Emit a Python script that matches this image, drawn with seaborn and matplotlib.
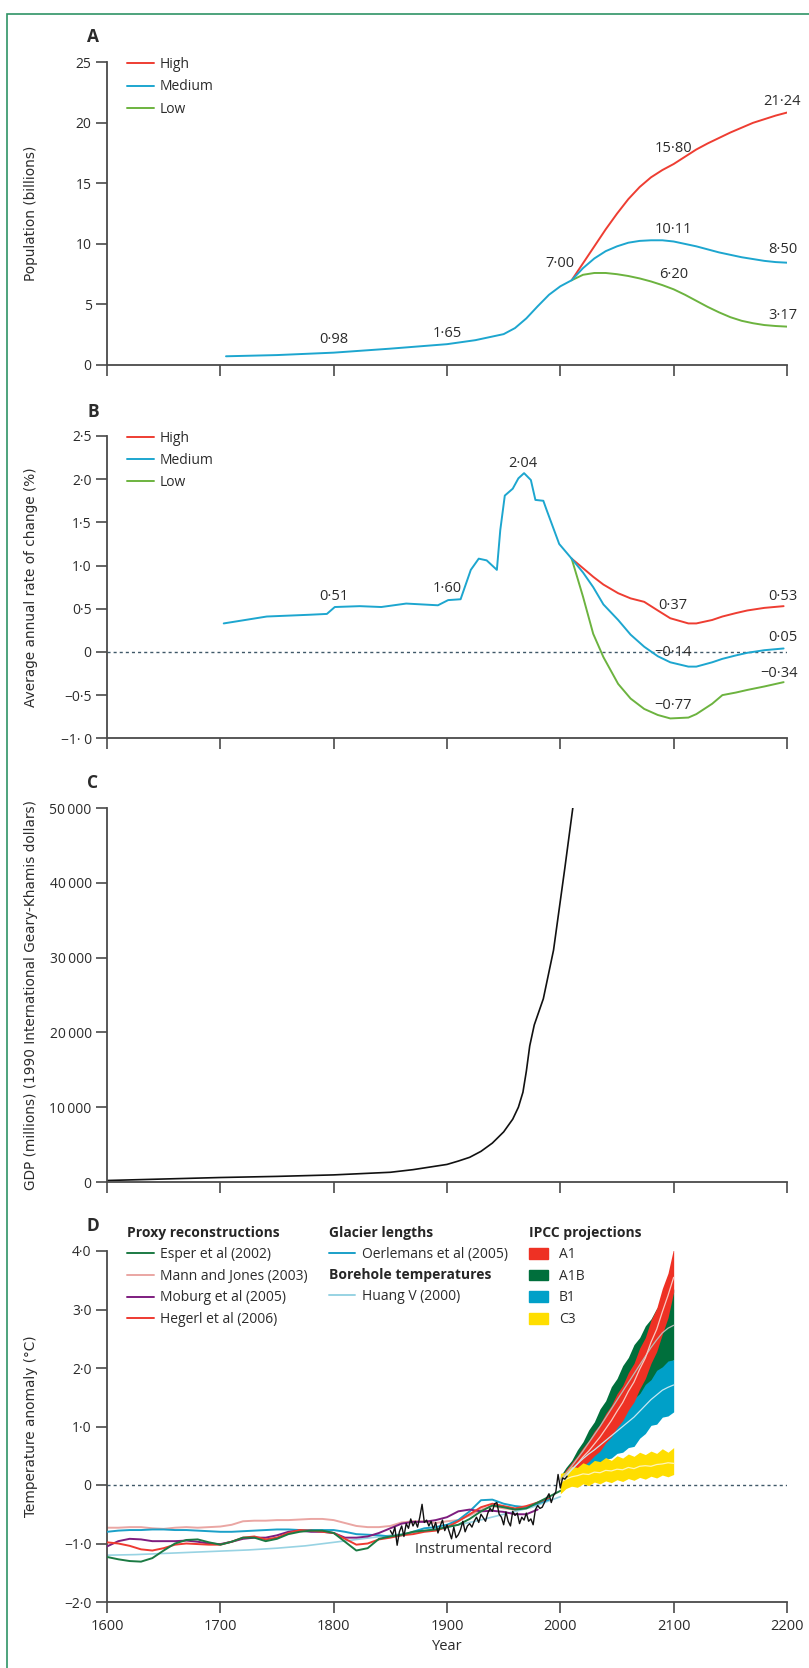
import numpy as np
import pandas as pd
import matplotlib
matplotlib.use("Agg")
import matplotlib.pyplot as plt
import seaborn as sns
from matplotlib.lines import Line2D
from matplotlib.patches import Patch, Rectangle

sns.set_theme(style="ticks")
plt.rcParams["font.family"] = ["Open Sans", "DejaVu Sans"]

# ---------------- DATA ----------------
# Panel A: population (billions)
pop_hist_years = [1705, 1750, 1800, 1850, 1900, 1925, 1950, 1960, 1970, 1980, 1990, 2000, 2010]
pop_hist = [0.72, 0.82, 1.02, 1.35, 1.72, 2.05, 2.55, 3.05, 3.85, 4.85, 5.80, 6.50, 7.00]
proj_years = [2010, 2020, 2030, 2040, 2050, 2060, 2070, 2080, 2090, 2100,
              2110, 2120, 2130, 2140, 2150, 2160, 2170, 2180, 2190, 2200]
pop_high = [7.0, 8.4, 9.8, 11.2, 12.5, 13.7, 14.7, 15.5, 16.1, 16.6,
            17.2, 17.8, 18.3, 18.75, 19.2, 19.6, 20.0, 20.3, 20.6, 20.85]
pop_medium = [7.0, 8.0, 8.8, 9.4, 9.8, 10.1, 10.25, 10.3, 10.3, 10.2,
              10.0, 9.8, 9.55, 9.3, 9.1, 8.9, 8.75, 8.6, 8.5, 8.45]
pop_low = [7.0, 7.45, 7.6, 7.6, 7.5, 7.35, 7.15, 6.9, 6.6, 6.25,
           5.8, 5.3, 4.8, 4.35, 3.95, 3.65, 3.45, 3.3, 3.22, 3.17]
popA_labels = ["0·98", "1·65", "7·00", "15·80", "10·11", "6·20", "21·24", "8·50", "3·17"]
popA_lab_x = [1800, 1900, 2000, 2100, 2100, 2100, 2196, 2196, 2196]
popA_lab_y = [2.1, 2.6, 8.4, 17.9, 11.15, 7.45, 21.75, 9.5, 4.1]

# Panel B: average annual rate of change (%)
rate_hist_years = [1703, 1741, 1778, 1794, 1801, 1823, 1842, 1864, 1892, 1901, 1912,
                   1921, 1928, 1935, 1944, 1947, 1951, 1958, 1963, 1968, 1974,
                   1978, 1985, 1988, 1999, 2010]
rate_hist = [0.33, 0.41, 0.43, 0.44, 0.52, 0.53, 0.52, 0.56, 0.54, 0.60, 0.61,
             0.95, 1.08, 1.06, 0.95, 1.41, 1.81, 1.89, 2.01, 2.07, 1.99,
             1.76, 1.75, 1.64, 1.25, 1.08]
rate_proj_years = [2010, 2020, 2029, 2038, 2051, 2062, 2074, 2086, 2097, 2113, 2120,
                   2134, 2143, 2155, 2165, 2180, 2197]
rate_high = [1.08, 0.97, 0.87, 0.78, 0.68, 0.62, 0.58, 0.48, 0.39, 0.33, 0.33,
             0.37, 0.41, 0.45, 0.48, 0.51, 0.53]
rate_medium = [1.08, 0.92, 0.75, 0.55, 0.37, 0.20, 0.06, -0.05, -0.12, -0.17, -0.17,
               -0.12, -0.08, -0.04, -0.01, 0.02, 0.04]
rate_low = [1.08, 0.64, 0.21, -0.06, -0.37, -0.54, -0.66, -0.73, -0.77, -0.76, -0.72,
            -0.60, -0.50, -0.47, -0.44, -0.40, -0.35]
rateB_labels = ["0·51", "1·60", "2·04", "0·37", "0·53", "0·05", "−0·14", "−0·34", "−0·77"]
rateB_lab_x = [1800, 1900, 1967, 2099, 2196, 2196, 2099, 2193, 2099]
rateB_lab_y = [0.64, 0.73, 2.18, 0.54, 0.64, 0.17, -0.01, -0.25, -0.62]

# Panel C: GDP (millions, 1990 international Geary-Khamis dollars)
gdp_years = [1600, 1650, 1700, 1750, 1800, 1850, 1870, 1900, 1910, 1920, 1930, 1940, 1950,
             1958, 1963, 1967, 1970, 1973, 1977, 1985, 1994, 2004, 2011]
gdp = [200, 400, 600, 750, 950, 1300, 1650, 2350, 2800, 3300, 4100, 5200, 6700,
       8400, 10000, 12000, 14800, 18200, 21000, 24500, 31000, 42000, 50000]

# Panel D: temperature anomaly (deg C)
proxy_years_10 = list(range(1600, 2001, 10))
esper = [-1.23, -1.27, -1.30, -1.31, -1.25, -1.12, -1.00, -0.94, -0.93, -0.98,
         -1.02, -0.97, -0.90, -0.90, -0.96, -0.92, -0.84, -0.80, -0.78, -0.78,
         -0.82, -0.97, -1.12, -1.08, -0.92, -0.88, -0.85, -0.80, -0.78, -0.76,
         -0.72, -0.68, -0.58, -0.45, -0.35, -0.38, -0.42, -0.40, -0.30, -0.20, -0.10]
mann_jones = [-0.73, -0.73, -0.72, -0.72, -0.74, -0.75, -0.73, -0.72, -0.73, -0.72,
              -0.71, -0.68, -0.62, -0.61, -0.61, -0.60, -0.60, -0.59, -0.58, -0.58,
              -0.60, -0.65, -0.70, -0.72, -0.72, -0.70, -0.64, -0.62, -0.62, -0.65,
              -0.62, -0.60, -0.52, -0.42, -0.36, -0.40, -0.42, -0.38, -0.30]
moburg = [-1.05, -0.96, -0.92, -0.93, -0.96, -0.96, -0.96, -0.95, -0.97, -1.00,
          -1.01, -0.97, -0.92, -0.90, -0.90, -0.86, -0.80, -0.78, -0.80, -0.80,
          -0.82, -0.90, -0.90, -0.88, -0.82, -0.74, -0.66, -0.63, -0.63, -0.60,
          -0.55, -0.45, -0.42, -0.45, -0.44, -0.46, -0.50, -0.50, -0.42]
hegerl = [-0.98, -1.00, -1.04, -1.10, -1.12, -1.08, -1.02, -1.00, -1.01, -1.02,
          -1.02, -0.97, -0.90, -0.88, -0.93, -0.90, -0.82, -0.77, -0.78, -0.80,
          -0.82, -0.92, -1.02, -1.00, -0.93, -0.90, -0.86, -0.84, -0.80, -0.78,
          -0.72, -0.62, -0.50, -0.38, -0.32, -0.36, -0.40, -0.36, -0.30, -0.22]
oerlemans = [-0.80, -0.78, -0.77, -0.77, -0.76, -0.76, -0.77, -0.77, -0.78, -0.79,
             -0.80, -0.80, -0.79, -0.78, -0.77, -0.76, -0.76, -0.77, -0.77, -0.77,
             -0.77, -0.80, -0.84, -0.85, -0.86, -0.88, -0.86, -0.80, -0.74, -0.72,
             -0.68, -0.60, -0.45, -0.26, -0.25, -0.32, -0.36, -0.38, -0.32, -0.25]
huang_years = [1600, 1625, 1650, 1675, 1700, 1725, 1750, 1775, 1800, 1825,
               1850, 1875, 1900, 1925, 1950, 1975, 2000]
huang = [-1.20, -1.19, -1.17, -1.15, -1.13, -1.11, -1.08, -1.04, -0.98, -0.92,
         -0.86, -0.80, -0.72, -0.62, -0.50, -0.38, -0.20]
instr_years = list(range(1850, 2007, 2))
instrumental = [-0.78, -0.85, -0.72, -1.03, -0.80, -0.70, -0.88, -0.66, -0.74, -0.58,
                -0.70, -0.62, -0.72, -0.55, -0.33, -0.64, -0.60, -0.70, -0.62, -0.75,
                -0.64, -0.82, -0.70, -0.60, -0.78, -0.68, -0.80, -0.92, -0.72, -0.90,
                -0.85, -0.76, -0.62, -0.80, -0.70, -0.66, -0.72, -0.62, -0.55, -0.64,
                -0.50, -0.56, -0.62, -0.48, -0.40, -0.45, -0.32, -0.30, -0.50, -0.55,
                -0.68, -0.46, -0.62, -0.70, -0.45, -0.52, -0.48, -0.66, -0.55, -0.60,
                -0.48, -0.62, -0.58, -0.68, -0.42, -0.35, -0.40, -0.38, -0.30, -0.22,
                -0.15, -0.30, -0.18, -0.12, 0.18, -0.05, 0.12, 0.10, 0.15]
ipcc_years = list(range(2000, 2101, 5))
a1_hi = [0.12, 0.26, 0.38, 0.50, 0.64, 0.76, 0.92, 1.04, 1.22, 1.36, 1.56,
         1.70, 1.92, 2.08, 2.34, 2.52, 2.82, 3.02, 3.36, 3.62, 4.05]
a1_lo = [-0.02, 0.06, 0.16, 0.22, 0.32, 0.40, 0.50, 0.58, 0.72, 0.82, 0.98,
         1.10, 1.28, 1.42, 1.64, 1.82, 2.08, 2.28, 2.58, 2.86, 3.30]
a1_mean = [0.05, 0.16, 0.27, 0.36, 0.48, 0.58, 0.70, 0.82, 0.96, 1.10, 1.26,
           1.41, 1.60, 1.76, 1.98, 2.17, 2.44, 2.66, 2.96, 3.24, 3.55]
a1b_hi = [0.15, 0.30, 0.42, 0.60, 0.74, 0.94, 1.08, 1.30, 1.44, 1.68, 1.82,
          2.04, 2.18, 2.40, 2.52, 2.72, 2.84, 3.02, 3.12, 3.28, 3.35]
a1b_lo = [0.00, 0.08, 0.18, 0.28, 0.40, 0.50, 0.62, 0.72, 0.85, 0.95, 1.05,
          1.18, 1.30, 1.42, 1.55, 1.66, 1.78, 1.90, 2.00, 2.08, 2.14]
a1b_mean = [0.08, 0.20, 0.32, 0.45, 0.58, 0.72, 0.86, 1.00, 1.15, 1.30, 1.45,
            1.60, 1.75, 1.90, 2.05, 2.20, 2.35, 2.48, 2.60, 2.68, 2.73]
b1_hi = [0.12, 0.24, 0.34, 0.44, 0.52, 0.62, 0.70, 0.80, 0.88, 1.00, 1.08,
         1.22, 1.32, 1.48, 1.56, 1.72, 1.80, 1.96, 2.02, 2.12, 2.14]
b1_lo = [-0.08, 0.05, 0.12, 0.16, 0.24, 0.27, 0.35, 0.36, 0.44, 0.46, 0.54,
         0.56, 0.64, 0.66, 0.80, 0.88, 1.02, 1.04, 1.16, 1.18, 1.25]
b1_mean = [0.02, 0.15, 0.26, 0.36, 0.45, 0.53, 0.60, 0.68, 0.76, 0.84, 0.92,
           1.00, 1.08, 1.16, 1.26, 1.36, 1.46, 1.54, 1.62, 1.67, 1.71]
c3_hi = [0.20, 0.22, 0.32, 0.30, 0.38, 0.34, 0.42, 0.40, 0.47, 0.42, 0.50,
         0.46, 0.53, 0.49, 0.56, 0.52, 0.58, 0.54, 0.62, 0.56, 0.64]
c3_lo = [-0.15, -0.06, -0.02, -0.04, 0.02, -0.01, 0.05, 0.02, 0.07, 0.04, 0.09,
         0.06, 0.11, 0.08, 0.13, 0.10, 0.15, 0.12, 0.17, 0.14, 0.18]
c3_mean = [0.05, 0.10, 0.14, 0.16, 0.19, 0.18, 0.22, 0.21, 0.25, 0.24, 0.27,
           0.26, 0.30, 0.28, 0.32, 0.33, 0.32, 0.35, 0.36, 0.38, 0.37]

year_ticks = list(range(1600, 2201, 100))
popA_ticks = [0, 5, 10, 15, 20, 25]
rateB_ticks = [-1.0, -0.5, 0, 0.5, 1.0, 1.5, 2.0, 2.5]
rateB_ticklabels = ["−1· 0", "−0·5", "0", "0·5", "1·0", "1·5", "2·0", "2·5"]
gdp_ticks = [0, 10000, 20000, 30000, 40000, 50000]
gdp_ticklabels = ["0", "10\u2009000", "20\u2009000", "30\u2009000", "40\u2009000", "50\u2009000"]
tempD_ticks = [-2, -1, 0, 1, 2, 3, 4]
tempD_ticklabels = ["−2·0", "−1·0", "0", "1·0", "2·0", "3·0", "4·0"]

# ---------------- STYLE ----------------
C_HIGH = "#ee3d32"
C_MED = "#1da6cf"
C_LOW = "#6cb33f"
AXC = "#4a4a4a"
TXT = "#2b2b2b"
ZERO = "#3f5868"
FS = 10

W, H = 809, 1668
fig = plt.figure(figsize=(W / 100, H / 100), dpi=100)


def ax_at(top, bottom, left=107, right=787):
    return fig.add_axes([left / W, 1 - bottom / H, (right - left) / W, (bottom - top) / H])


axA = ax_at(62.3, 365)
axB = ax_at(436, 738.3)
axC = ax_at(808, 1182)
axD = ax_at(1251, 1602)

for ax in (axA, axB, axC, axD):
    sns.despine(ax=ax)
    ax.set_facecolor("white")
    for s in ("left", "bottom"):
        ax.spines[s].set_color(AXC)
        ax.spines[s].set_linewidth(1.3)
    ax.set_xlim(1600, 2200)
    ax.set_xticks(year_ticks)
    ax.tick_params(axis="both", direction="out", length=8, width=1.2, color=AXC,
                   labelcolor=TXT, labelsize=FS, pad=3)
    ax.grid(False)
    ax.set_xlabel("")

for ax in (axA, axB, axC):
    ax.tick_params(axis="x", labelbottom=False)

ylab_kw = dict(fontsize=9.8, color=TXT, family="DejaVu Sans")
lab_x = (38 - 107) / 680

# ---- Panel A ----
sns.lineplot(x=pop_hist_years + proj_years[1:], y=pop_hist + pop_medium[1:], ax=axA,
             color=C_MED, lw=1.4, zorder=3)
sns.lineplot(x=proj_years, y=pop_high, ax=axA, color=C_HIGH, lw=1.4, zorder=2)
sns.lineplot(x=proj_years, y=pop_low, ax=axA, color=C_LOW, lw=1.4, zorder=2)
axA.set_ylim(0, 25)
axA.set_yticks(popA_ticks)
axA.set_yticklabels([str(t) for t in popA_ticks])
axA.set_ylabel("Population (billions)", **ylab_kw)
axA.yaxis.set_label_coords(lab_x, 0.5)
for t, x, y in zip(popA_labels, popA_lab_x, popA_lab_y):
    axA.text(x, y, t, ha="center", va="center", fontsize=10.5, color=TXT)

leg_handles = [Line2D([], [], color=C_HIGH, lw=1.4), Line2D([], [], color=C_MED, lw=1.4),
               Line2D([], [], color=C_LOW, lw=1.4)]
for ax in (axA, axB):
    ax.legend(leg_handles, ["High", "Medium", "Low"], loc="upper left",
              bbox_to_anchor=(0.03, 1.017), frameon=False, fontsize=FS,
              handlelength=1.9, handletextpad=0.45, labelspacing=0.52,
              borderpad=0, borderaxespad=0, labelcolor=TXT)

# ---- Panel B ----
axB.axhline(0, color=ZERO, lw=1.0, ls=(0, (2.2, 2.2)), zorder=1)
sns.lineplot(x=rate_hist_years, y=rate_hist, ax=axB, color=C_MED, lw=1.4, zorder=3)
sns.lineplot(x=rate_proj_years, y=rate_medium, ax=axB, color=C_MED, lw=1.4, zorder=3)
sns.lineplot(x=rate_proj_years, y=rate_high, ax=axB, color=C_HIGH, lw=1.4, zorder=2)
sns.lineplot(x=rate_proj_years, y=rate_low, ax=axB, color=C_LOW, lw=1.4, zorder=2)
axB.set_ylim(-1.0, 2.5)
axB.set_yticks(rateB_ticks)
axB.set_yticklabels(rateB_ticklabels)
axB.set_ylabel("Average annual rate of change (%)", **ylab_kw)
axB.yaxis.set_label_coords(lab_x, 0.5)
for t, x, y in zip(rateB_labels, rateB_lab_x, rateB_lab_y):
    axB.text(x, y, t, ha="center", va="center", fontsize=10.5, color=TXT)

# ---- Panel C ----
sns.lineplot(x=gdp_years, y=gdp, ax=axC, color="#111111", lw=1.2)
axC.set_ylim(0, 50000)
axC.set_yticks(gdp_ticks)
axC.set_yticklabels(gdp_ticklabels)
axC.set_ylabel("GDP (millions) (1990 International Geary-Khamis dollars)", **ylab_kw)
axC.yaxis.set_label_coords(lab_x, 0.5)

# ---- Panel D ----
C_ESPER = "#1b7a43"
C_MANN = "#eaa6a3"
C_MOBURG = "#7e1d7f"
C_HEGERL = "#ee3a31"
C_OERL = "#1aa0c8"
C_HUANG = "#98d3e3"
C_A1 = "#ee3124"
C_A1B = "#006f3c"
C_B1 = "#00a0c8"
C_C3 = "#ffde00"

axD.axhline(0, color=ZERO, lw=1.0, ls=(0, (2.2, 2.2)), zorder=1)
sns.lineplot(x=huang_years, y=huang, ax=axD, color=C_HUANG, lw=1.2, zorder=2)
sns.lineplot(x=proxy_years_10[:len(mann_jones)], y=mann_jones, ax=axD, color=C_MANN, lw=1.4, zorder=2)
sns.lineplot(x=proxy_years_10[:len(oerlemans)], y=oerlemans, ax=axD, color=C_OERL, lw=1.4, zorder=3)
sns.lineplot(x=proxy_years_10[:len(moburg)], y=moburg, ax=axD, color=C_MOBURG, lw=1.4, zorder=3)
sns.lineplot(x=proxy_years_10[:len(hegerl)], y=hegerl, ax=axD, color=C_HEGERL, lw=1.4, zorder=3)
sns.lineplot(x=proxy_years_10[:len(esper)], y=esper, ax=axD, color=C_ESPER, lw=1.4, zorder=3)

axD.fill_between(ipcc_years, a1b_lo, a1b_hi, color=C_A1B, lw=0, zorder=4)
axD.fill_between(ipcc_years, b1_lo, b1_hi, color=C_B1, lw=0, zorder=5)
axD.fill_between(ipcc_years, a1_lo, a1_hi, color=C_A1, lw=0, zorder=6)
axD.fill_between(ipcc_years, c3_lo, c3_hi, color=C_C3, lw=0, zorder=7)
sns.lineplot(x=ipcc_years, y=a1b_mean, ax=axD, color="#b9bcb8", lw=0.9, zorder=8)
sns.lineplot(x=ipcc_years, y=a1_mean, ax=axD, color="#f9c9c2", lw=0.9, zorder=8)
sns.lineplot(x=ipcc_years, y=b1_mean, ax=axD, color="#c6e7f1", lw=0.9, zorder=8)
sns.lineplot(x=ipcc_years, y=c3_mean, ax=axD, color="#fff4b8", lw=0.9, zorder=8)
sns.lineplot(x=instr_years, y=instrumental, ax=axD, color="#111111", lw=1.0, zorder=9)

axD.set_ylim(-2, 4)
axD.set_yticks(tempD_ticks)
axD.set_yticklabels(tempD_ticklabels)
axD.set_xticklabels([str(t) for t in year_ticks])
axD.tick_params(axis="x", labelsize=10.5, pad=4)
axD.set_ylabel("Temperature anomaly (°C)", **ylab_kw)
axD.yaxis.set_label_coords(lab_x, 0.5)
axD.set_xlabel("Year", fontsize=10.5, color=TXT, labelpad=4)
axD.text(1872, -1.11, "Instrumental record", ha="left", va="center", fontsize=10.5, color=TXT)

leg_kw = dict(loc="upper left", frameon=False, fontsize=FS, handlelength=1.9,
              handletextpad=0.45, labelspacing=0.48, borderpad=0, borderaxespad=0,
              alignment="left", labelcolor=TXT,
              title_fontproperties={"weight": "bold", "size": FS})
top_anchor = 1.07
lg1 = axD.legend([Line2D([], [], color=c, lw=1.4) for c in (C_ESPER, C_MANN, C_MOBURG, C_HEGERL)],
                 ["Esper et al (2002)", "Mann and Jones (2003)", "Moburg et al (2005)", "Hegerl et al (2006)"],
                 title="Proxy reconstructions", bbox_to_anchor=(0.03, top_anchor), **leg_kw)
axD.add_artist(lg1)
lg2 = axD.legend([Line2D([], [], color=C_OERL, lw=1.4)], ["Oerlemans et al (2005)"],
                 title="Glacier lengths", bbox_to_anchor=(0.3265, top_anchor), **leg_kw)
axD.add_artist(lg2)
lg3 = axD.legend([Line2D([], [], color=C_HUANG, lw=1.4)], ["Huang V (2000)"],
                 title="Borehole temperatures", bbox_to_anchor=(0.3265, top_anchor - 0.118), **leg_kw)
axD.add_artist(lg3)
patch_kw = dict(leg_kw)
patch_kw.update(handlelength=1.4, handleheight=0.8, handletextpad=0.75)
lg4 = axD.legend([Patch(color=c) for c in (C_A1, C_A1B, C_B1, C_C3)], ["A1", "A1B", "B1", "C3"],
                 title="IPCC projections", bbox_to_anchor=(0.6206, top_anchor), **patch_kw)

# Panel letters
for letter, y in (("A", 37), ("B", 412), ("C", 783), ("D", 1226)):
    fig.text(93 / W, 1 - y / H, letter, ha="center", va="center", fontsize=12.5,
             fontweight="bold", color=TXT)

# Green frame
fig.add_artist(Rectangle((7 / W, -0.05), 1.2, 1 - 14 / H + 0.05, transform=fig.transFigure,
                         fill=False, edgecolor="#2f9466", lw=1.2))

fig.savefig("out.png", dpi=100, facecolor="white")
